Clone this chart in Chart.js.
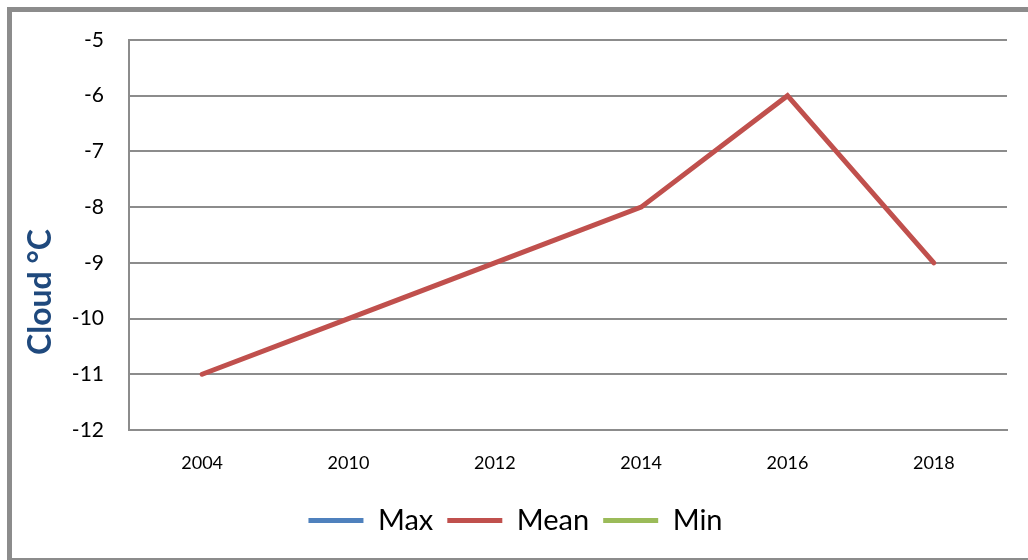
<!DOCTYPE html>
<html>
<head>
<meta charset="utf-8">
<script src="https://cdn.jsdelivr.net/npm/chart.js@4"></script>
<style>
  body { margin: 0; background: #fff; overflow: hidden; }
  #wrap { position: relative; width: 1028px; height: 560px; }
  #frame {
    position: absolute; left: 7px; top: 7px; width: 1100px; height: 546px;
    border-left: 5px solid #8c8c8c; border-top: 5px solid #8c8c8c; border-bottom: 2px solid #8c8c8c;
    pointer-events: none;
  }
</style>
</head>
<body>
<div id="wrap">
  <canvas id="cloudChart" width="1028" height="560"></canvas>
  <div id="frame"></div>
</div>
<script>
Chart.defaults.font.family = 'Lato, "Liberation Sans", sans-serif';
Chart.defaults.color = '#000';

const years = ['2004', '2010', '2012', '2014', '2016', '2018'];
const maxValues = [];
const meanValues = [-11, -10, -9, -8, -6, -9];
const minValues = [];
const yMin = -12;
const yMax = -5;
const yTitle = 'Cloud °C';

const serie = (label, data, color) => ({
    label: label,
    data: data,
    borderColor: color,
    backgroundColor: color,
    borderWidth: 5,
    borderCapStyle: 'round',
    pointRadius: 0,
    pointStyle: 'line',
    tension: 0
});

// axis title sits lower than the plot centre, so draw it by hand
const yTitlePlugin = {
    id: 'yTitle',
    afterDraw(chart) {
        const ctx = chart.ctx;
        ctx.save();
        ctx.translate(41, 292);
        ctx.rotate(-Math.PI / 2);
        ctx.font = 'bold 32px Lato, sans-serif';
        ctx.fillStyle = '#1F497D';
        ctx.textAlign = 'center';
        ctx.textBaseline = 'middle';
        ctx.fillText(yTitle, 0, 0);
        ctx.restore();
    }
};

new Chart('cloudChart', {
    type: 'line',
    data: {
        labels: years,
        datasets: [
            serie('Max', maxValues, '#4F81BD'),
            serie('Mean', meanValues, '#C0504D'),
            serie('Min', minValues, '#9BBB59')
        ]
    },
    options: {
        responsive: false,
        animation: false,
        layout: { padding: { left: 24, top: 40, right: 21, bottom: 15 } },
        plugins: {
            legend: {
                position: 'bottom',
                labels: {
                    usePointStyle: true,
                    pointStyleWidth: 55,
                    boxHeight: 22,
                    padding: 14,
                    font: { size: 29 }
                }
            },
            tooltip: { enabled: false }
        },
        scales: {
            x: {
                offset: true,
                grid: { display: false, drawTicks: false },
                border: { color: '#8c8c8c', width: 2 },
                ticks: { padding: 22, font: { size: 18 } },
                afterFit: (s) => { s.height = 62; }
            },
            y: {
                min: yMin,
                max: yMax,
                ticks: { stepSize: 1, padding: 25, font: { size: 21 } },
                grid: { color: '#8c8c8c', lineWidth: 2, drawTicks: false },
                border: { color: '#8c8c8c', width: 2 },
                afterFit: (s) => { s.width = 105; }
            }
        }
    },
    plugins: [yTitlePlugin]
});
</script>
</body>
</html>
